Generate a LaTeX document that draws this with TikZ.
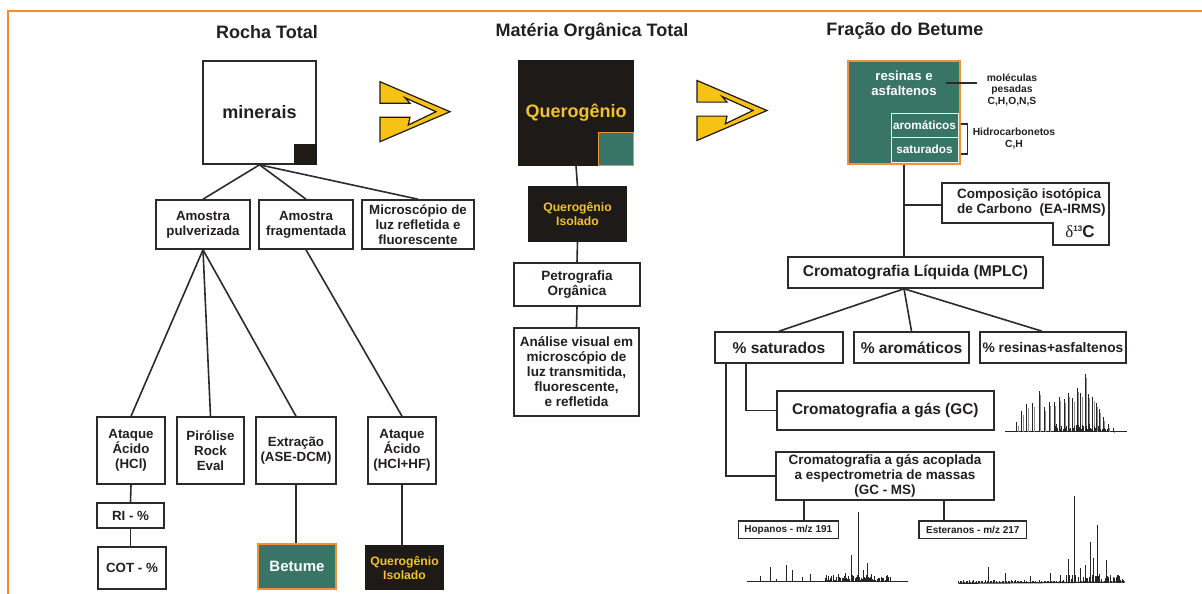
\documentclass[tikz,border=0pt]{standalone}
\usepackage{fontspec}
\setmainfont{Liberation Sans}
\newfontfamily\serifgreek{Liberation Serif}
\usetikzlibrary{calc}
\definecolor{textdark}{HTML}{231F20}
\definecolor{linecol}{HTML}{2D2A2A}
\definecolor{tealbox}{HTML}{387567}
\definecolor{orangeB}{HTML}{F0903A}
\definecolor{orangeF}{HTML}{F28C2E}
\definecolor{yellowT}{HTML}{F2C12E}
\definecolor{yellowA}{HTML}{F5C215}
\definecolor{blackbox}{HTML}{1E1A17}
\newcommand{\fsz}[2]{\bfseries\fontsize{#1}{#2}\selectfont}
\begin{document}
\begin{tikzpicture}[x=1pt,y=-1pt,
  box/.style={draw=linecol, line width=1.6pt, fill=white, inner sep=0pt, align=center, text=textdark, font=\fsz{13.3}{15}},
  darkbox/.style={box, fill=blackbox, draw=blackbox, text=yellowT},
  tealnode/.style={box, fill=tealbox, draw=orangeB, text=white},
  conn/.style={draw=linecol, line width=1.6pt},
  title/.style={font=\fsz{18}{20}, text=textdark, inner sep=0pt},
  lbl/.style={text=textdark, inner sep=0pt, align=center},
  arrowshape/.style={fill=yellowA, draw=blackbox, line width=1.2pt, line join=miter},
  chrom/.style={draw=black!85, line width=0.8pt},
  chromg/.style={draw=black!45, line width=0.8pt}]
\useasboundingbox (0,0) rectangle (1202,594);
% frame
\draw[orangeF, line width=2.5pt] (8,594) -- (8,11) -- (1202,11);

% titles
\node[title] (t1) at (267,32) {Rocha Total};
\node[title] (t2) at (592,32) {Matéria Orgânica Total};
\node[title] (t3) at (905,31) {Fração do Betume};

% arrows
\foreach \sx/\sy in {380/81.7, 697/80.5} {
  \path[arrowshape, shift={(\sx,\sy)}] (0,0) -- (70,30) -- (0,60) -- (0,35.6) -- (30,35.6) -- (28.3,43.3) -- (56,30) -- (25,16) -- (30,21.6) -- (0,21.6) -- cycle;
}

% ---------- left column ----------
\node[box, minimum width=113pt, minimum height=103pt, font=\fsz{18}{20}] (min) at (259.5,112.5) {minerais};
\fill[blackbox] ($(min.south east)+(-23,-21)$) rectangle (min.south east);

\node[box, minimum width=94pt, minimum height=49pt] (pulv) at (203,224.5) {Amostra\\pulverizada};
\node[box, minimum width=94pt, minimum height=49pt] (frag) at (306,224.5) {Amostra\\fragmentada};
\node[box, minimum width=112pt, minimum height=49pt] (micro) at (418,224.5) {Microscópio de\\luz refletida e\\fluorescente};

\node[box, minimum width=68pt, minimum height=67pt] (ataq1) at (131,450.5) {Ataque\\Ácido\\(HCl)};
\node[box, minimum width=67pt, minimum height=67pt] (piro) at (210.5,450.5) {Pirólise\\Rock\\Eval};
\node[box, minimum width=80pt, minimum height=67pt] (extr) at (296,450.5) {Extração\\(ASE-DCM)};
\node[box, minimum width=68pt, minimum height=67pt] (ataq2) at (402,450.5) {Ataque\\Ácido\\(HCl+HF)};

\node[box, minimum width=67pt, minimum height=25pt] (ri) at (130.5,515.5) {RI - \%};
\node[box, minimum width=68pt, minimum height=42pt] (cot) at (132,568) {COT - \%};
\node[tealnode, minimum width=78pt, minimum height=45pt, font=\fsz{15}{17}] (bet) at (297,566.5) {Betume};
\node[darkbox, minimum width=77pt, minimum height=43pt, font=\fsz{12.2}{14}] (qiso2) at (404.5,567.5) {Querogênio\\Isolado};

\draw[conn] (min.south) -- (pulv.north);
\draw[conn] (min.south) -- (frag.north);
\draw[conn] (min.south) -- (micro.north);
\draw[conn] (pulv.south) -- (ataq1.north);
\draw[conn] (pulv.south) -- (piro.north);
\draw[conn] (pulv.south) -- (extr.north);
\draw[conn] (frag.south) -- (ataq2.north);
\draw[conn] (ataq1.south) -- (ri.north);
\draw[conn] (ri.south) -- (ri.south |- cot.north);
\draw[conn] (extr.south) -- (extr.south |- bet.north);
\draw[conn] (ataq2.south) -- (ataq2.south |- qiso2.north);

% ---------- middle column ----------
\node[darkbox, minimum width=114pt, minimum height=104pt, font=\fsz{18}{20}] (quero) at (576,113) {Querogênio};
\filldraw[fill=tealbox, draw=orangeB, line width=1.2pt] ($(quero.south east)+(-35,-33)$) rectangle (quero.south east);
\node[darkbox, minimum width=97pt, minimum height=54pt, font=\fsz{12.2}{14}] (qiso1) at (577.5,214) {Querogênio\\Isolado};
\node[box, minimum width=126pt, minimum height=43pt, font=\fsz{13.5}{15}] (petro) at (577,284.5) {Petrografia\\Orgânica};
\node[box, minimum width=125pt, minimum height=88pt, font=\fsz{13.5}{15}] (anal) at (576.5,372) {Análise visual em\\microscópio de\\luz transmitida,\\fluorescente,\\e refletida};
\draw[conn] (quero.south) -- (qiso1.north);
\draw[conn] (qiso1.south) -- (petro.north);
\draw[conn] (petro.south) -- (anal.north);

% ---------- right column ----------
\node[tealnode, minimum width=112pt, minimum height=103pt] (betbox) at (904,112.5) {};
\node[lbl, text=white, font=\fsz{13.2}{15}] (resin) at (904,83) {resinas e\\asfaltenos};
\node[box, fill=tealbox, draw=white!85!gray, line width=0.9pt, text=white, minimum width=67pt, minimum height=24pt, font=\fsz{11.8}{13}] (arom) at (924.5,125) {aromáticos};
\node[box, fill=tealbox, draw=white!85!gray, line width=0.9pt, text=white, minimum width=67pt, minimum height=25pt, font=\fsz{11.8}{13}] (satu) at (924.5,149.5) {saturados};
\node[lbl, font=\fsz{10.3}{11.7}] (molec) at (1012,90) {moléculas\\pesadas\\C,H,O,N,S};
\draw[conn, line width=1.2pt] (946,83) -- (977,83);
\draw[conn, line width=1.2pt] (960.7,124) -- (967.7,124) -- (967.7,154) -- (960.7,154);
\node[lbl, font=\fsz{10.3}{12}] (hidro) at (1014,139) {Hidrocarbonetos\\C,H};

% composition box (notched)
\draw[conn, fill=white, line join=miter] (942,183) -- (1109,183) -- (1109,245) -- (1053,245) -- (1053,222.7) -- (942,222.7) -- cycle;
\coordinate (compL) at (942,204.7);
\node[lbl, anchor=west, align=left, font=\fsz{13.5}{15}] (comp) at (957,202.5) {Composição isotópica\\de Carbono\ \ (EA-IRMS)};
\node[lbl, font=\fsz{17}{19}] (d13) at (1080,232) {{\serifgreek\mdseries δ}\raisebox{6pt}{\fontsize{8}{8}\selectfont 13}C};

\node[box, minimum width=255pt, minimum height=31pt, font=\fsz{15.6}{17}] (mplc) at (915.5,272.5) {Cromatografia Líquida (MPLC)};
\draw[conn] (betbox.south) -- (betbox.south |- mplc.north);
\draw[conn] (betbox.south |- compL) -- (compL);
\coordinate (mb) at (betbox.south |- mplc.south);

\node[box, minimum width=128pt, minimum height=31pt, font=\fsz{15.6}{17}] (psat) at (779,347.5) {\% saturados};
\node[box, minimum width=115pt, minimum height=31pt, font=\fsz{15.6}{17}] (parom) at (911.5,347.5) {\% aromáticos};
\node[box, minimum width=146pt, minimum height=31pt, font=\fsz{13.8}{16}] (pres) at (1053,347.5) {\% resinas+asfaltenos};
\draw[conn] (mb) -- (psat.north);
\draw[conn] (mb) -- (parom.north);
\draw[conn] (mb) -- ($(pres.north)+(-11,0)$);

\node[box, minimum width=217pt, minimum height=39pt, font=\fsz{15.4}{17}] (gc) at (885.3,410.3) {Cromatografia a gás (GC)};
\node[box, minimum width=218pt, minimum height=48pt, font=\fsz{13.5}{15}] (gcms) at (885,475.8) {Cromatografia a gás acoplada\\a espectrometria de massas\\(GC - MS)};
\draw[conn] ($(psat.south west)+(31.7,0)$) |- (gc.west);
\draw[conn] ($(psat.south west)+(11.7,0)$) |- (gcms.west);

\node[box, minimum width=100pt, minimum height=17.3pt, font=\fsz{10}{11}] (hop) at (788.3,529.7) {Hopanos - m/z 191};
\node[box, minimum width=107.7pt, minimum height=17.3pt, font=\fsz{10}{11}] (est) at (972.8,529.7) {Esteranos - m/z 217};
\coordinate (h1) at ($(gcms.south west)+(29,0)$);
\coordinate (h2) at ($(gcms.south west)+(169,0)$);
\draw[conn] (h1) -- (h1 |- hop.north);
\draw[conn] (h2) -- (h2 |- est.north);

% ---------- chromatograms ----------
% GC
\draw[chrom] (1005,431.7) -- (1127,431.7);
\foreach \x/\y in {1016.7/421.7, 1021.7/410.7, 1026.7/404.3, 1032.7/403.3, 1039.3/390.7, 1044/407.3, 1049.3/401.7, 1054/401.7, 1059.3/396.7, 1064/399.3, 1068.3/392.7, 1072.7/398.3, 1077.3/388.3, 1080.7/393.3, 1085/374, 1088.3/394, 1092.7/396.7, 1096/403.3, 1099.3/409.3, 1103.3/416.7, 1108.3/424, 1113.3/428.3}
  {\draw[chromg] (\x+1.4,431.7) -- (\x+1.4,\y+4); \draw[chrom] (\x,431.7) -- (\x,\y);}
\pgfmathsetseed{11}
\foreach \i in {0,...,40} {
  \pgfmathsetmacro\xx{1055+\i*1.3}
  \pgfmathsetmacro\hh{2+rnd*6}
  \draw[chrom, line width=0.6pt] (\xx,431.7) -- (\xx,431.7-\hh);
}
% Hopanos
\draw[chrom] (746.7,581.7) -- (908.3,581.7);
\foreach \x/\y in {760.7/576, 770/567.3, 776/579.3, 786.7/565, 792.3/570, 802.7/577.3, 810.7/574, 828.3/576, 833.3/575, 838.3/574, 845/573, 851.7/555, 858.3/511.7, 863.3/570, 867.7/562.7, 871/574}
  {\draw[chrom] (\x,581.7) -- (\x,\y);}
\pgfmathsetseed{5}
\foreach \i in {0,...,50} {
  \pgfmathsetmacro\xx{825+\i*1.3}
  \pgfmathsetmacro\hh{1+rnd*6}
  \draw[chrom, line width=0.6pt] (\xx,581.7) -- (\xx,581.7-\hh);
}
% Esteranos
\draw[chrom, line width=1.2pt] (958.3,583.3) -- (1125,582);
\foreach \x/\y in {988.3/567.3, 1005/572.7, 1030/576, 1050/573.3, 1060/575, 1068.3/559.3, 1074/496, 1080/568.3, 1085/565, 1090/541.7, 1093.3/558.3, 1097.7/525, 1106.7/560, 1118.3/575}
  {\draw[chrom] (\x,582.5) -- (\x,\y);}
\pgfmathsetseed{9}
\foreach \i in {0,...,110} {
  \pgfmathsetmacro\xx{958.5+\i*1.5}
  \pgfmathsetmacro\hh{1+rnd*(2+(\i>70)*7)}
  \draw[chrom, line width=0.6pt] (\xx,583) -- (\xx,583-\hh);
}
\end{tikzpicture}
\end{document}
